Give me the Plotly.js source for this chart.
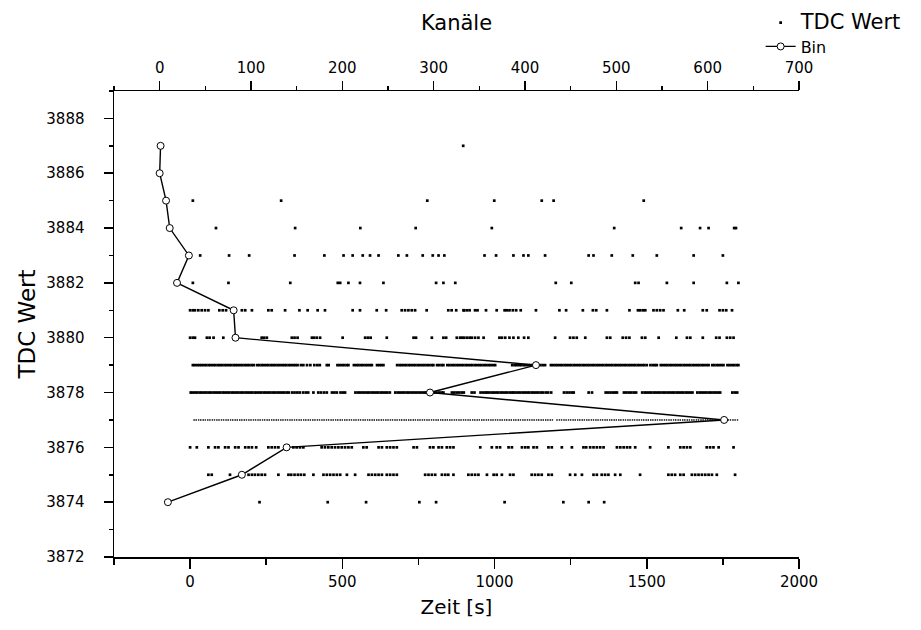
<!DOCTYPE html>
<html><head><meta charset="utf-8">
<script src="https://cdn.plot.ly/plotly-3.0.1.min.js"></script>
<style>html,body{margin:0;padding:0;background:#fff}#chart{width:921px;height:630px}</style>
</head><body><div id="chart"></div>
<script>
// TDC readings: time [s] of each reading, one array per TDC value
const t3887 = [897];
const t3886 = [];
const t3885 = [9,299,779,999,1155,1194,1490];
const t3884 = [85,345,559,741,991,1393,1613,1675,1703,1787,1793];
const t3883 = [33,128,194,343,441,504,534,567,591,619,684,712,764,797,816,835,967,1005,1062,1095,1111,1166,1309,1325,1385,1454,1533,1654,1750];
const t3882 = [9,126,329,485,493,520,558,635,808,832,871,1201,1252,1462,1473,1566,1654,1763,1801];
const t3881 = [0,9,16,27,38,49,60,96,107,118,170,181,203,257,268,312,359,386,419,443,534,558,613,644,695,706,717,728,739,777,848,859,874,898,
  900,909,918,936,944,972,1007,1033,1040,1049,1060,1071,1086,1136,1213,1235,1290,1323,1334,1369,1443,1471,1478,1487,1495,1522,1533,1544,1555,1602,1623,1684,1697,1739,1750,1761,1780];
const t3880 = [0,9,16,55,64,77,109,235,243,252,334,343,353,400,407,416,427,501,575,584,593,646,734,742,794,832,841,876,887,
  893,900,909,918,925,936,947,964,1016,1024,1035,1049,1062,1078,1097,1111,1199,1248,1259,1270,1298,1369,1380,1421,1432,1443,1484,1495,1539,1597,1632,1643,1684,1728,1739,1763,1774,1785];
const t3879 = [9,16,24,31,38,46,53,61,68,76,83,91,98,105,113,120,128,135,143,150,157,165,172,180,187,194,202,209,
  220,227,235,242,250,257,265,272,279,287,294,302,309,316,324,331,339,346,353,364,372,384,395,408,418,426,449,455,
  484,491,499,506,514,520,538,546,553,561,568,576,583,591,597,614,621,628,635,
  680,688,695,703,710,718,725,733,740,748,755,763,770,778,785,793,799,811,818,826,832,
  845,852,860,867,875,882,890,897,905,912,920,927,935,942,950,957,965,972,980,987,995,1002,
  1058,1066,1073,1081,1088,1096,1103,1111,1118,1126,1133,1150,1158,1166,
  1185,1192,1200,1207,1215,1222,1230,1237,1245,1252,1260,1267,1275,1282,1290,1297,1305,1312,1320,1327,1335,1342,1350,1357,1365,1372,1380,1387,1395,1402,1410,1417,1425,1432,1440,1447,1455,1462,1470,1477,1485,1492,1500,
  1512,1520,1527,1533,1546,1553,1561,1568,1576,1583,1591,1598,1606,1613,1621,1628,1636,1643,1651,1658,1666,1673,1681,1688,1696,1703,
  1715,1722,1730,1737,1745,1752,1765,1772,1780,1787,1795,1801];
const t3878 = [2,9,17,24,32,39,47,54,62,69,77,84,92,99,107,114,122,129,137,144,152,159,167,174,182,189,197,204,212,219,227,234,242,249,257,264,272,279,287,294,302,309,317,324,
  335,343,352,360,371,380,388,405,421,430,440,449,466,474,482,494,502,509,
  543,551,558,566,573,581,588,596,603,611,618,626,633,641,648,656,674,682,689,697,704,712,719,727,734,742,750,757,765,772,777,
  800,809,818,826,832,860,868,876,884,892,899,925,934,954,962,970,975,
  982,990,997,1005,1012,1020,1027,1035,1042,1050,1057,1062,1069,1077,1084,1092,1099,1107,1114,1122,1129,1137,1144,1152,1159,1168,1176,1186,
  1228,1237,1246,1254,1260,1309,1320,1365,1373,1381,1389,1396,1402,1425,1433,1441,1449,1457,1465,
  1485,1493,1500,1508,1515,1523,1530,1538,1545,1553,1560,1568,1575,1583,1590,1598,1605,1613,1620,1628,1635,1643,1650,
  1666,1674,1681,1689,1696,1704,1711,1719,1726,1734,1741,1781,1789,1797];
const t3877 = [13,20,28,35,43,50,58,65,73,80,88,95,103,110,118,125,133,140,148,155,163,170,178,185,193,200,208,215,223,230,238,245,253,260,268,275,283,290,298,305,313,320,328,335,343,350,358,365,373,380,388,395,403,410,418,425,433,440,448,455,463,470,478,485,493,500,508,515,523,530,538,545,553,560,568,575,583,590,598,605,613,620,628,635,643,650,658,665,673,680,688,695,703,710,718,725,733,740,748,755,763,770,778,785,793,800,808,815,823,830,838,845,853,860,868,875,883,890,898,905,913,920,928,935,943,950,958,965,973,980,988,995,1003,1010,1018,1025,1033,1040,1048,1055,1063,1070,1078,1085,1093,1100,1108,1115,1123,1130,1138,1145,1153,1160,1168,1175,1183,1190,1205,1213,1220,1228,1235,1243,1250,1258,1265,1273,1280,1288,1295,1303,1310,1318,1325,1333,1340,1348,1355,1363,1370,1378,1385,1393,1400,1408,1415,1423,1430,1438,1445,1453,1460,1468,1475,1483,1490,1498,1505,1513,1520,1528,1535,1543,1550,1558,1565,1573,1580,1588,1595,1603,1610,1618,1625,1633,1640,1648,1655,1663,1670,1678,1685,1693,1700,1708,1715,1723,1730,1738,1745,1753,1760,1768,1775,1783,1790,1798];
const t3876 = [0,22,60,82,93,115,126,148,159,181,192,203,217,257,268,279,290,339,350,361,372,432,443,454,465,476,487,498,509,520,531,569,580,619,630,646,657,668,679,734,745,788,799,816,827,843,854,865,
  953,991,1007,1018,1046,1057,1090,1101,1111,1128,1139,1177,1188,1221,1254,1292,1301,1314,1325,1336,1347,1358,1402,1413,1424,1435,1445,1462,1511,1571,1610,1621,1632,1643,1697,1708,1719,1736,1785];
const t3875 = [60,71,131,192,203,213,224,235,246,290,323,332,343,354,364,375,405,438,449,460,471,482,493,515,542,586,597,608,619,630,646,657,668,679,772,783,794,805,827,838,848,865,
  914,925,936,947,975,997,1007,1024,1051,1062,1122,1133,1144,1155,1177,1188,1248,1265,1287,1325,1336,1352,1363,1374,1396,1413,1478,1571,1582,1593,1610,1621,1648,1659,1670,1681,1692,1703,1714,1730,1790];
const t3874 = [228,452,578,753,808,1033,1226,1309,1360];

// Histogram of TDC values (counts, top axis "Kanäle")
const binTDC   = [3887,3886,3885,3884,3883,3882,3881,3880,3879,3878,3877,3876,3875,3874];
const binCount = [1,0,7,11,32,19,81,83,412,296,618,139,90,9];

const rows = [[3887,t3887],[3886,t3886],[3885,t3885],[3884,t3884],[3883,t3883],[3882,t3882],[3881,t3881],
  [3880,t3880],[3879,t3879],[3878,t3878],[3876,t3876],[3875,t3875],[3874,t3874]];
const xs = [], ys = [];
rows.forEach(([v, ts]) => ts.forEach(t => { xs.push(t); ys.push(v); }));
const xsMain = t3877, ysMain = t3877.map(() => 3877);

const FONT = 'DejaVu Sans, Liberation Sans, Arial, sans-serif';

const traces = [
  {type:'scatter', mode:'markers', name:'<span style="font-size:21px">TDC Wert</span>', legendgroup:'tdc',
   x: xs, y: ys, xaxis:'x', yaxis:'y',
   marker:{symbol:'square', size:2.7, color:'#000'}},
  {type:'scatter', mode:'markers', name:'TDC Wert', legendgroup:'tdc', showlegend:false,
   x: xsMain, y: ysMain, xaxis:'x', yaxis:'y',
   marker:{symbol:'square', size:1.4, color:'#000'}},
  {type:'scatter', mode:'lines+markers', name:'Bin',
   x: binCount, y: binTDC, xaxis:'x2', yaxis:'y',
   line:{color:'#000', width:1.4},
   marker:{symbol:'circle', size:7, color:'#fff', line:{color:'#000', width:1}}}
];

const layout = {
  width:921, height:630,
  margin:{l:114, r:122, t:91, b:73, pad:0, autoexpand:false},
  paper_bgcolor:'#fff', plot_bgcolor:'#fff',
  font:{family:FONT, color:'#000', size:15},
  showlegend:true,
  legend:{x:0.944, xanchor:'left', y:1.183, yanchor:'top', bgcolor:'rgba(0,0,0,0)',
          font:{family:FONT, size:16, color:'#000'}, tracegroupgap:0, itemwidth:30},
  xaxis:{range:[-250,2000], dtick:500, tick0:0, ticks:'outside', ticklen:10, tickwidth:1.5, tickcolor:'#000',
         minor:{dtick:250, tick0:0, ticks:'outside', ticklen:6, tickwidth:1.5, tickcolor:'#000'},
         showline:true, linecolor:'#000', linewidth:1.5, showgrid:false, zeroline:false,
         tickfont:{family:FONT, size:15}, automargin:false,
         title:{text:'Zeit [s]', font:{family:FONT, size:20}, standoff:10}},
  xaxis2:{overlaying:'x', side:'top', anchor:'y', range:[-50,700], dtick:100, tick0:0,
         ticks:'outside', ticklen:9, tickwidth:1.5, tickcolor:'#000',
         minor:{dtick:50, tick0:0, ticks:'outside', ticklen:4, tickwidth:1.5, tickcolor:'#000'},
         showline:true, linecolor:'#000', linewidth:1.5, showgrid:false, zeroline:false,
         tickfont:{family:FONT, size:15}, automargin:false, ticklabelstandoff:2,
         title:{text:'Kanäle', font:{family:FONT, size:21}, standoff:22}},
  yaxis:{range:[3872,3889], dtick:2, tick0:3872, ticks:'outside', ticklen:9, tickwidth:1.5, tickcolor:'#000',
         minor:{dtick:1, tick0:3872, ticks:'outside', ticklen:4, tickwidth:1.5, tickcolor:'#000'},
         showline:true, linecolor:'#000', linewidth:1.5, showgrid:false, zeroline:false,
         tickfont:{family:FONT, size:15}, ticklabelstandoff:16, automargin:false,
         title:{text:'TDC Wert', font:{family:FONT, size:23}, standoff:4}}
};

Plotly.newPlot('chart', traces, layout, {displayModeBar:false, staticPlot:true});
</script>
</body></html>
